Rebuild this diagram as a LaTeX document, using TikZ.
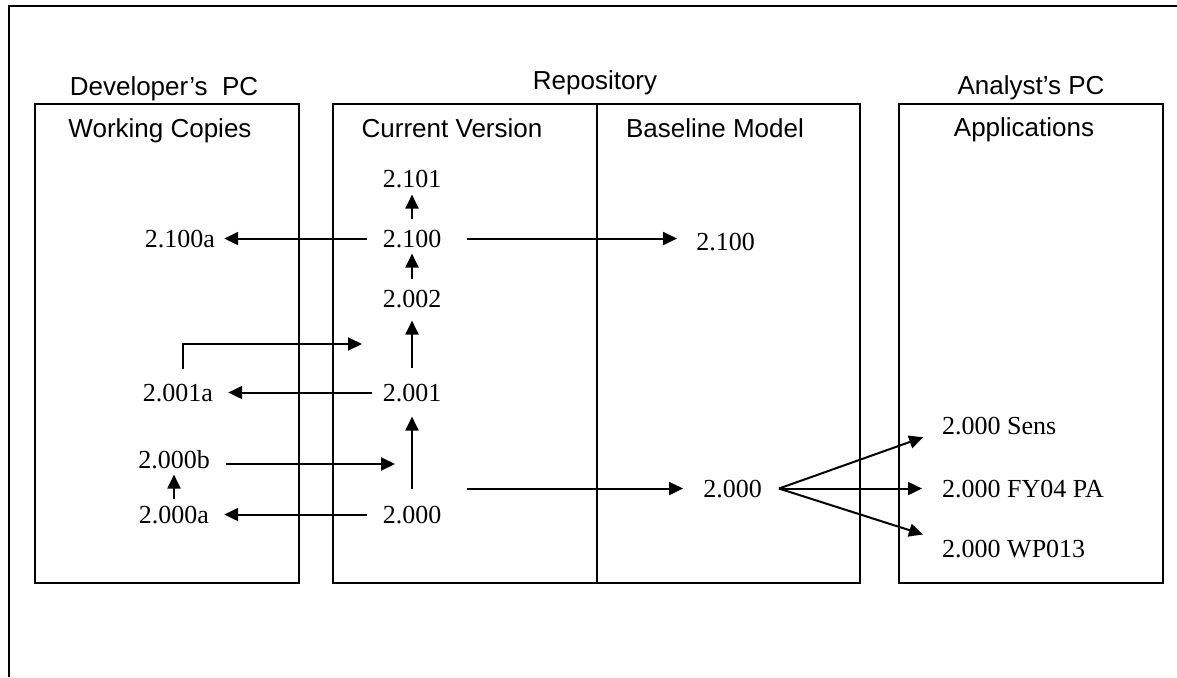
\documentclass[tikz,border=0pt]{standalone}
\usepackage{fontspec}
\setmainfont{Liberation Serif}
\newfontfamily\headfont{Liberation Sans}
\usetikzlibrary{arrows.meta}
\tikzset{
  frameline/.style={line width=2pt},
  panel/.style={draw, line width=2pt},
  head/.style={font=\headfont\fontsize{26}{30}\selectfont, inner sep=0pt, anchor=base},
  ver/.style={font=\fontsize{26}{30}\selectfont, inner sep=0pt, anchor=base},
  verl/.style={ver, anchor=base west},
  link/.style={line width=2pt, -{Triangle[length=14pt,width=13pt]}},
}
\begin{document}
\begin{tikzpicture}[x=1pt,y=-1pt]
\useasboundingbox (0,0) rectangle (1177,677);
% outer frame (top and left only)
\draw[frameline] (9,677) -- (9,6) -- (1177,6);
% panels
\draw[panel] (35,104) rectangle (299,583);
\draw[panel] (333,104) rectangle (860,583);
\draw[panel] (597,104) -- (597,583);
\draw[panel] (899,104) rectangle (1163,583);
% headings
\node[head] (devpc) at (164,95) {Developer’s~~PC};
\node[head] (repo) at (595,89) {Repository};
\node[head] (anpc) at (1031,94) {Analyst’s PC};
\node[head] (work) at (160,137) {Working Copies};
\node[head] (curr) at (452,137) {Current Version};
\node[head] (base) at (715,137) {Baseline Model};
\node[head] (apps) at (1024,136) {Applications};
% current version column
\node[ver] (c2101) at (412,187) {2.101};
\node[ver] (c2100) at (412,247) {2.100};
\node[ver] (c2002) at (412,307) {2.002};
\node[ver] (c2001) at (412,401) {2.001};
\node[ver] (c2000) at (412,523) {2.000};
% working copies
\node[ver] (w2100a) at (180,247.5) {2.100a};
\node[ver] (w2001a) at (178,401) {2.001a};
\node[ver] (w2000b) at (174,468) {2.000b};
\node[ver] (w2000a) at (174,523) {2.000a};
% baseline
\node[ver] (b2100) at (725.5,250) {2.100};
\node[ver] (b2000) at (732.5,497) {2.000};
% applications
\node[verl] (sens) at (942,434) {2.000 Sens};
\node[verl] (fy04) at (942,497) {2.000 FY04 PA};
\node[verl] (wp013) at (942,557) {2.000 WP013};
% free ends
\coordinate (mergeb) at (395,464);
\coordinate (mergea) at (362,344);
\coordinate (fan) at ([xshift=17pt]b2000.east);
% vertical chain
\draw[link, shorten <=17pt, shorten >=15pt] (c2000.north) -- (c2000.north |- c2001.south);
\draw[link, shorten <=16pt, shorten >=13pt] (c2001.north) -- (c2001.north |- c2002.south);
\draw[link, shorten <=11pt, shorten >=6pt] (c2002.north) -- (c2002.north |- c2100.south);
\draw[link, shorten <=11pt, shorten >=7pt] (c2100.north) -- (c2100.north |- c2101.south);
\draw[link, shorten <=7pt, shorten >=6pt] (w2000a.north) -- (w2000a.north |- w2000b.south);
% check-outs
\draw[link, shorten <=16pt, shorten >=9pt] (c2100.west) -- (c2100.west -| w2100a.east);
\draw[link, shorten <=11pt, shorten >=15pt] (c2001.west) -- (c2001.west -| w2001a.east);
\draw[link, shorten <=16pt, shorten >=15pt] (c2000.west) -- (c2000.west -| w2000a.east);
% commits
\draw[link, shorten <=16pt] (w2000b.east |- mergeb) -- (mergeb);
\draw[link, shorten <=15pt] ([xshift=5pt]w2001a.north) |- (mergea);
% baselines
\draw[link, shorten <=26pt, shorten >=19pt] (c2100.east) -- (c2100.east -| b2100.west);
\draw[link, shorten <=26pt, shorten >=20pt] (b2000.west -| c2000.east) -- (b2000.west);
% distribution
\draw[link, shorten >=20pt] (fan) -- ([yshift=-5pt]sens.west);
\draw[link, shorten >=20pt] (fan) -- (fan -| fy04.west);
\draw[link, shorten >=20pt] (fan) -- ([yshift=8pt]wp013.west);
\end{tikzpicture}
\end{document}
